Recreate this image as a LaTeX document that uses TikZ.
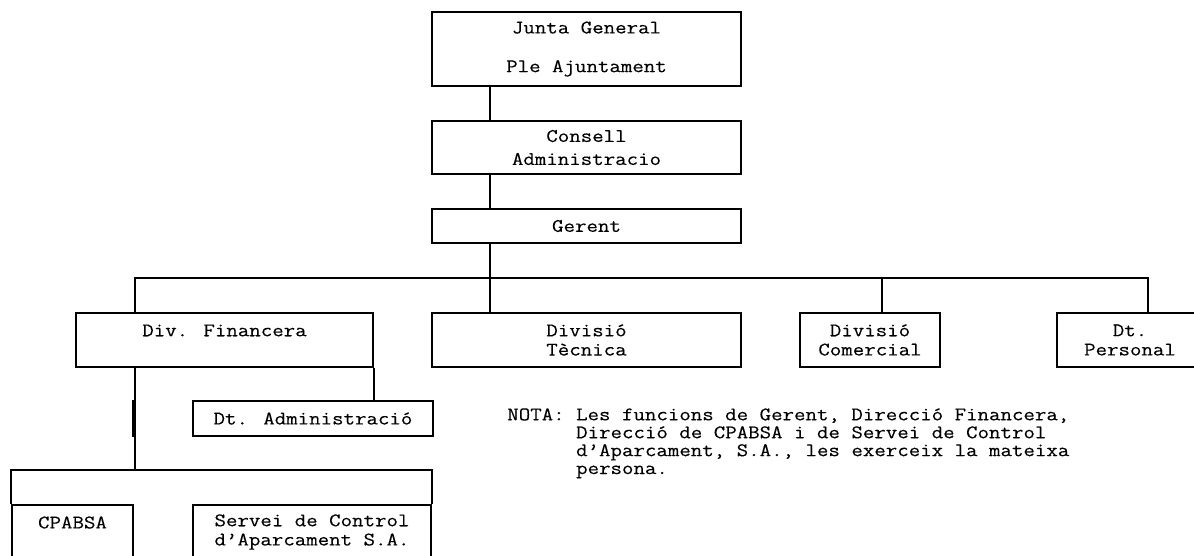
\documentclass[tikz,border=0pt]{standalone}
\usepackage{fontspec}
\usetikzlibrary{calc}
\newfontfamily\chartfont{Latin Modern Mono}[FakeStretch=1.16,FakeBold=0.25]
\tikzset{
  orgbox/.style={draw, rectangle, line width=1.25pt, inner sep=0pt, align=center,
    font=\chartfont\fontsize{12}{12}\selectfont},
  orgline/.style={line width=1.25pt},
  notetext/.style={inner sep=0pt, align=left, font=\chartfont\fontsize{12}{11.2}\selectfont}
}

\begin{document}
\begin{tikzpicture}[x=0.625pt,y=-0.625pt]
  \clip (0,0) rectangle (1194,555);
  % upper levels
  \node[orgbox, minimum width=193.1pt, minimum height=46.25pt] (junta) at (586.5,49) {Junta General\\[12.2pt]Ple Ajuntament};
  \node[orgbox, minimum width=193.1pt, minimum height=33.1pt,
    font=\chartfont\fontsize{12}{14.4}\selectfont] (consell) at (586.5,147.5) {Consell\\Administracio};
  \node[orgbox, minimum width=193.1pt, minimum height=21.25pt] (gerent) at (586.5,226) {Gerent};
  % divisions
  \node[orgbox, minimum width=185.6pt, minimum height=33.75pt] (divfin) at (224.5,340) {Div. Financera\\\mbox{}};
  \node[orgbox, minimum width=193.1pt, minimum height=33.75pt] (divtec) at (586.5,340) {Divisió\\Tècnica};
  \node[orgbox, minimum width=87.5pt, minimum height=33.75pt] (divcom) at (870,340) {Divisió\\Comercial};
  \node[orgbox, minimum width=91.25pt, minimum height=33.75pt] (dtpers) at (1130,340) {Dt.\\Personal};
  % under Div. Financera
  \node[orgbox, minimum width=150pt, minimum height=21.9pt] (dtadm) at (313,418.5) {Dt. Administració};
  \node[orgbox, minimum width=75.6pt, minimum height=33.75pt] (cpabsa) at (72.5,532) {CPABSA\\\mbox{}};
  \node[orgbox, minimum width=148.75pt, minimum height=33.75pt] (servei) at (312,532) {Servei de Control\\d’Aparcament S.A.};

  \coordinate (hub) at (490,278);
  \coordinate (finbus) at (135,278);
  \coordinate (combus) at (882,278);
  \coordinate (persbus) at (1148,278);
  \coordinate (subbus) at (135,470);

  \draw[orgline] (junta.south -| hub) -- (consell.north -| hub);
  \draw[orgline] (consell.south -| hub) -- (gerent.north -| hub);
  \draw[orgline] (gerent.south -| hub) -- (divtec.north -| hub);
  \draw[orgline] (divfin.north -| finbus) -- (finbus) -- (persbus) -- (dtpers.north -| persbus);
  \draw[orgline] (combus) -- (divcom.north -| combus);
  \draw[orgline] (divfin.south -| subbus) -- (subbus);
  \draw[orgline] (divfin.south east) -- (divfin.south east |- dtadm.north);
  \draw[orgline] (cpabsa.north west) -- (cpabsa.north west |- subbus)
    -- (servei.north east |- subbus) -- (servei.north east);
  \draw[line width=2.1pt] ($(subbus |- dtadm.north)+(-1,0)$) -- ($(subbus |- dtadm.south)+(-1,0)$);

  \node[notetext, anchor=north west] (nota) at (507,408)
    {NOTA: Les funcions de Gerent, Direcció Financera,\\
     \phantom{NOTA: }Direcció de CPABSA i de Servei de Control\\
     \phantom{NOTA: }d’Aparcament, S.A., les exerceix la mateixa\\
     \phantom{NOTA: }persona.};
\end{tikzpicture}
\end{document}
